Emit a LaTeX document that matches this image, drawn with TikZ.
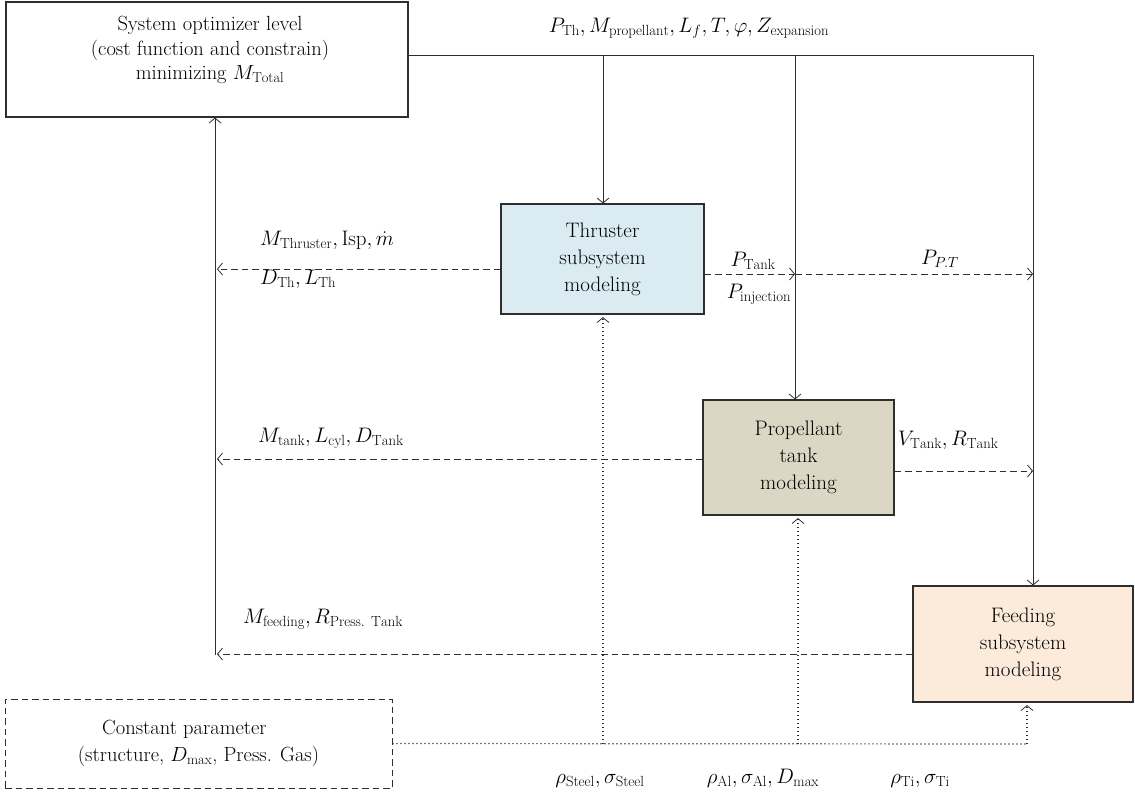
\documentclass[tikz,border=0pt]{standalone}
\usepackage{fix-cm}
\usepackage{amsmath}
\usepackage{fontspec}
\setmainfont{Latin Modern Roman}
\usetikzlibrary{arrows.meta}
\definecolor{lc}{HTML}{2E2E2E}
\definecolor{thrfill}{HTML}{DAECF2}
\definecolor{propfill}{HTML}{DBD7C4}
\definecolor{feedfill}{HTML}{FCEADB}
\tikzset{
  box/.style={draw=lc, line width=1.1pt, inner sep=0pt, align=center,
    font=\fontsize{21}{27}\selectfont},
  ln/.style={draw=lc, line width=0.8pt},
  arr/.style={-{Straight Barb[length=5pt,width=12pt,line width=0.8pt]}},
  dashln/.style={ln, dash pattern=on 6.5pt off 4pt},
  dotln/.style={ln, line width=1.2pt, dash pattern=on 1.2pt off 2.8pt},
  lbl/.style={inner sep=0pt, font=\fontsize{21}{24}\selectfont}
}
\begin{document}
\begin{tikzpicture}[x=1pt,y=-1pt]
\useasboundingbox (0,0) rectangle (1135,795);
% boxes
\node[box, minimum width=402pt, minimum height=115pt] (sys) at (207,59.5) {};
\node[inner sep=0pt, align=center, font=\fontsize{20.5}{24.5}\selectfont] (systxt) at (210,50)
  {System optimizer level\\(cost function and constrain)\\minimizing $M_{\mathrm{Total}}$};
\node[box, fill=thrfill, minimum width=203pt, minimum height=110pt] (thr) at (602.5,259)
  {Thruster\\subsystem\\modeling};
\node[box, fill=propfill, minimum width=191pt, minimum height=115pt] (prop) at (798.5,457.5)
  {Propellant\\tank\\modeling};
\node[box, fill=feedfill, minimum width=220pt, minimum height=116pt] (feed) at (1023,644)
  {Feeding\\subsystem\\modeling};
\node[box, line width=0.9pt, dash pattern=on 6.5pt off 4pt, minimum width=387pt, minimum height=89pt,
  font=\fontsize{20.5}{27}\selectfont] (const) at (198.5,743.5)
  {\hspace*{-28pt}Constant parameter\\(structure, $D_{\max}$, Press. Gas)};
% junction coordinates
\coordinate (s1) at (408,55);
\coordinate (jT) at (603,55);
\coordinate (jP) at (795,55);
\coordinate (jF) at (1033,55);
\coordinate (lvBot) at (215,655);
\coordinate (m1) at (795,274);
\coordinate (dF) at (1027,744);
\coordinate (dT) at (603,744);
\coordinate (dP) at (798,744);
% solid lines
\draw[ln] (s1) -- (jF);
\draw[ln, arr] (jF) -- (jF |- feed.north);
\draw[ln, arr] (jT) -- (jT |- thr.north);
\draw[ln, arr] (jP) -- (jP |- prop.north);
\draw[ln, arr] (lvBot) -- (lvBot |- sys.south);
% dashed lines
\draw[dashln, arr] ([yshift=-10pt]thr.west) -- ([yshift=-10pt,xshift=2pt]thr.west -| lvBot);
\draw[dashln, arr] ([yshift=-15pt]thr.east) -- (m1);
\draw[dashln, arr] (m1) -- (m1 -| jF);
\draw[dashln, arr] ([yshift=-1.5pt]prop.west) -- ([yshift=-1.5pt,xshift=2pt]prop.west -| lvBot);
\draw[dashln, arr] ([yshift=-13.5pt]prop.east) -- ([yshift=-13.5pt]prop.east -| jF);
\draw[dashln, arr] ([yshift=-10pt]feed.west) -- ([yshift=-10pt,xshift=2pt]feed.west -| lvBot);
% dotted lines
\draw[dotln] (const.east) -- (dF);
\draw[dotln, arr, shorten >=2.5pt] (dF) -- (dF |- feed.south);
\draw[dotln, arr, shorten >=2.5pt] (dT) -- (dT |- thr.south);
\draw[dotln, arr, shorten >=2.5pt] (dP) -- (dP |- prop.south);
% labels
\node[lbl, anchor=base] (ltop) at (689,32)
  {$P_{\mathrm{Th}}, M_{\mathrm{propellant}}, L_f, T, \varphi, Z_{\mathrm{expansion}}$};
\node[lbl, anchor=base west] (lthr1) at (260,245) {$M_{\mathrm{Thruster}}, \mathrm{Isp}, \dot{m}$};
\node[lbl, anchor=base west] (lthr2) at (260,284) {$D_{\mathrm{Th}}, L_{\mathrm{Th}}$};
\node[lbl, anchor=base] (lpt) at (753,266) {$P_{\mathrm{Tank}}$};
\node[lbl, anchor=base] (lpi) at (759,298) {$P_{\mathrm{injection}}$};
\node[lbl, anchor=base] (lppt) at (940,264) {$P_{P.T}$};
\node[lbl, anchor=base west] (ltank) at (258,442) {$M_{\mathrm{tank}}, L_{\mathrm{cyl}}, D_{\mathrm{Tank}}$};
\node[lbl, anchor=base west] (lvt) at (898,445) {$V_{\mathrm{Tank}}, R_{\mathrm{Tank}}$};
\node[lbl, anchor=base west] (lfeed) at (243,623) {$M_{\mathrm{feeding}}, R_{\mathrm{Press.\ Tank}}$};
\node[lbl, anchor=base] (lst) at (600,783) {$\rho_{\mathrm{Steel}}, \sigma_{\mathrm{Steel}}$};
\node[lbl, anchor=base] (lal) at (763,783) {$\rho_{\mathrm{Al}}, \sigma_{\mathrm{Al}}, D_{\max}$};
\node[lbl, anchor=base] (lti) at (920,783) {$\rho_{\mathrm{Ti}}, \sigma_{\mathrm{Ti}}$};
\end{tikzpicture}
\end{document}
